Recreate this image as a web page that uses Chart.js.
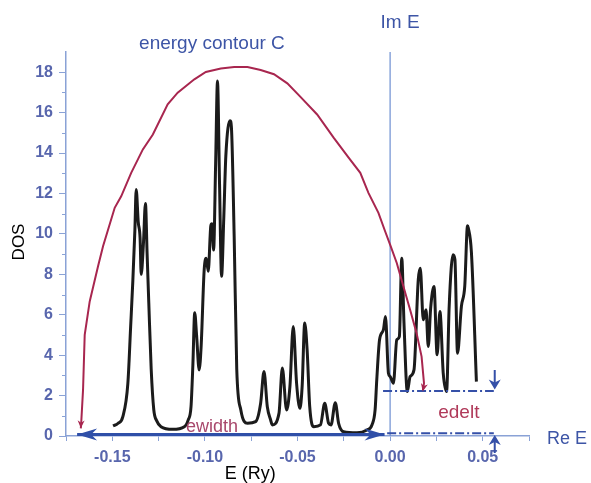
<!DOCTYPE html>
<html lang="en">
<head>
    <meta charset="UTF-8">
    <title>DOS and energy contour</title>
    <script src="https://cdn.jsdelivr.net/npm/chart.js"></script>
    <style>
        body {
            margin: 0;
            background: #fff;
        }
        canvas {
            display: block;
        }
    </style>
</head>
<body>
    <canvas id="dosChart" width="591" height="483"></canvas>

    <script>
        // density of states (black curve)
        const dosE = [
            -0.1496, -0.1470, -0.1443, -0.1416, -0.1401, -0.1389, -0.1378, -0.1371, -0.1360, -0.1350,
            -0.1344, -0.1332, -0.1321, -0.1312, -0.1303, -0.1290, -0.1276, -0.1260, -0.1237, -0.1174,
            -0.1111, -0.1090, -0.1075, -0.1065, -0.1055, -0.1045, -0.1031, -0.1020, -0.1004, -0.0993,
            -0.0982, -0.0968, -0.0962, -0.0953, -0.0942, -0.0932, -0.0921, -0.0910, -0.0898, -0.0887,
            -0.0864, -0.0857, -0.0842, -0.0828, -0.0806, -0.0770, -0.0726, -0.0699, -0.0681, -0.0663,
            -0.0645, -0.0636, -0.0600, -0.0582, -0.0559, -0.0541, -0.0523, -0.0505, -0.0487, -0.0475,
            -0.0461, -0.0448, -0.0434, -0.0412, -0.0376, -0.0353, -0.0332, -0.0319, -0.0296, -0.0278,
            -0.0251, -0.0179, -0.0125, -0.0098, -0.0081, -0.0072, -0.0057, -0.0036, -0.0025, -0.0009,
            0.0000, 0.0018, 0.0036, 0.0050, 0.0063, 0.0075, 0.0093, 0.0108, 0.0129, 0.0152,
            0.0163, 0.0179, 0.0194, 0.0206, 0.0219, 0.0237, 0.0254, 0.0269, 0.0287, 0.0305,
            0.0319, 0.0340, 0.0350, 0.0364, 0.0385, 0.0403, 0.0418, 0.0422, 0.0439, 0.0466
        ];
        const dosValues = [
            0.5, 0.62, 0.96, 2.6, 5.4, 7.7, 10.2, 12.2, 10.6, 9.8,
            8.0, 9.5, 11.5, 9.0, 6.6, 3.3, 1.3, 0.75, 0.46, 0.33,
            0.46, 0.8, 1.45, 3.5, 6.1, 5.0, 3.27, 4.5, 8.2, 8.8,
            8.15, 10.4, 10.5, 9.2, 13.5, 17.56, 12.5, 7.9, 10.8, 13.85,
            15.6, 15.3, 9.9, 3.3, 1.29, 0.63, 0.71, 1.62, 3.19, 1.45,
            0.79, 0.55, 1.12, 3.36, 1.29, 2.44, 5.42, 2.61, 1.37, 2.44,
            5.59, 4.26, 1.45, 0.46, 0.55, 1.62, 0.63, 0.55, 1.65, 0.63,
            0.21, 0.16, 0.3, 0.55, 1.29, 2.78, 4.76, 5.26, 5.91, 3.1,
            2.94, 2.61, 4.76, 4.92, 8.8, 5.59, 2.2, 2.94, 3.27, 7.73,
            8.3, 5.75, 6.25, 4.43, 6.33, 7.4, 4.02, 6.16, 3.1, 2.2,
            6.41, 8.97, 8.73, 4.1, 6.41, 7.4, 10.4, 10.3, 9.1, 2.69
        ];

        // energy contour C (crimson curve), drawn from left end to right end
        const contourE = [
            -0.1670, -0.1667, -0.1658, -0.1649, -0.1622, -0.1577, -0.1550, -0.1487, -0.1452, -0.1398,
            -0.1335, -0.1281, -0.1201, -0.1147, -0.1057, -0.0995, -0.0914, -0.0842, -0.0770, -0.0699,
            -0.0627, -0.0555, -0.0484, -0.0394, -0.0305, -0.0224, -0.0161, -0.0117, -0.0063, -0.0027,
            0.0000, 0.0036, 0.0072, 0.0108, 0.0143, 0.0170, 0.0183, 0.0176
        ];
        const contourValues = [
            0.38, 0.79, 2.28, 5.0, 6.66, 8.4, 9.39, 11.29, 11.86, 13.02,
            14.18, 14.92, 16.41, 16.99, 17.65, 18.01, 18.18, 18.26, 18.26, 18.11,
            17.9, 17.45, 16.78, 15.91, 14.76, 13.77, 13.02, 12.03, 11.04, 10.13,
            9.47, 8.56, 7.4, 6.25, 5.09, 3.93, 2.61, 2.2
        ];

        // construction lines
        const imAxisE = [0, 0];
        const imAxisValues = [0, 19];
        const ewidthE = [-0.169, -0.003];
        const ewidthValues = [0.08, 0.08];
        const edeltTopE = [-0.0038, 0.056];
        const edeltTopValues = [2.23, 2.23];
        const edeltBottomE = [-0.0016, 0.056];
        const edeltBottomValues = [0.13, 0.13];
        const edeltArrowE = 0.0565;
        const edeltDownArrow = [3.27, 2.3];
        const edeltUpArrow = [-0.84, 0.05];

        const toPoints = (xs, ys) => xs.map((x, i) => ({ x: x, y: ys[i] }));

        const FONT = '"Liberation Sans", Arial, sans-serif';
        const BLUE_TEXT = '#3d55a6';
        const TICK_BLUE = '#5866ad';
        const AXIS_BLUE = '#8aa2d6';
        const CRIMSON = '#a8264f';

        function arrowHead(ctx, fromX, fromY, tipX, tipY, len, half, color) {
            const a = Math.atan2(tipY - fromY, tipX - fromX);
            ctx.save();
            ctx.translate(tipX, tipY);
            ctx.rotate(a);
            ctx.fillStyle = color;
            ctx.beginPath();
            ctx.moveTo(0, 0);
            ctx.lineTo(-len, -half);
            ctx.lineTo(-len * 0.7, 0);
            ctx.lineTo(-len, half);
            ctx.closePath();
            ctx.fill();
            ctx.restore();
        }

        const extras = {
            id: 'extras',
            afterDatasetsDraw(chart) {
                const ctx = chart.ctx;
                const xs = chart.scales.x;
                const ys = chart.scales.y;
                const px = v => xs.getPixelForValue(v);
                const py = v => ys.getPixelForValue(v);

                // short minor ticks on the DOS axis
                ctx.save();
                ctx.strokeStyle = AXIS_BLUE;
                ctx.lineWidth = 1;
                for (let v = 1; v < 19; v += 2) {
                    const y = Math.round(py(v)) + 0.5;
                    ctx.beginPath();
                    ctx.moveTo(xs.left - 4, y);
                    ctx.lineTo(xs.left, y);
                    ctx.stroke();
                }
                ctx.restore();

                // arrowheads on the contour ends
                const n = contourE.length;
                arrowHead(ctx, px(contourE[1]), py(contourValues[1]) - 6, px(contourE[0]), py(contourValues[0]), 8, 3.5, CRIMSON);
                arrowHead(ctx, px(contourE[n - 2]) + 0.5, py(contourValues[n - 2]), px(contourE[n - 1]), py(contourValues[n - 1]), 8, 3.5, CRIMSON);

                // ewidth double arrow heads
                arrowHead(ctx, px(ewidthE[1]), py(ewidthValues[1]), px(ewidthE[0]), py(ewidthValues[0]), 20, 6, '#2f4fa8');
                arrowHead(ctx, px(ewidthE[0]), py(ewidthValues[0]), px(ewidthE[1]), py(ewidthValues[1]), 20, 6, '#2f4fa8');

                // edelt small arrows
                ctx.save();
                ctx.strokeStyle = '#3550a8';
                ctx.lineWidth = 2;
                const ax = px(edeltArrowE);
                ctx.beginPath();
                ctx.moveTo(ax, py(edeltDownArrow[0]));
                ctx.lineTo(ax, py(edeltDownArrow[1]) - 4);
                ctx.moveTo(ax, py(edeltUpArrow[0]));
                ctx.lineTo(ax, py(edeltUpArrow[1]) + 4);
                ctx.stroke();
                ctx.restore();
                arrowHead(ctx, ax, py(edeltDownArrow[0]), ax, py(edeltDownArrow[1]), 10, 6, '#3550a8');
                arrowHead(ctx, ax, py(edeltUpArrow[0]), ax, py(edeltUpArrow[1]), 10, 6, '#3550a8');

                // text labels
                ctx.save();
                ctx.textAlign = 'center';
                ctx.textBaseline = 'middle';

                ctx.fillStyle = BLUE_TEXT;
                ctx.font = '19px ' + FONT;
                ctx.fillText('energy contour C', px(-0.0962), 44);
                ctx.fillText('Im E', px(0.0054), 23);
                ctx.textAlign = 'left';
                ctx.font = '18px ' + FONT;
                ctx.fillText('Re E', xs.right + 18, py(-0.15));

                ctx.textAlign = 'center';
                ctx.fillStyle = '#a8486c';
                ctx.font = '18px ' + FONT;
                ctx.fillText('ewidth', px(-0.0962), py(0.45));
                ctx.fillStyle = '#b03a5a';
                ctx.font = '19px ' + FONT;
                ctx.fillText('edelt', px(0.0371), py(1.14));

                ctx.fillStyle = '#000';
                ctx.font = '18px ' + FONT;
                ctx.fillText('E (Ry)', px(-0.0755), 474);

                ctx.translate(19, py(9.6));
                ctx.rotate(-Math.PI / 2);
                ctx.font = '17px ' + FONT;
                ctx.fillText('DOS', 0, 0);
                ctx.restore();
            }
        };

        new Chart(document.getElementById('dosChart'), {
            type: 'scatter',
            data: {
                datasets: [
                    {
                        label: 'DOS',
                        data: toPoints(dosE, dosValues),
                        showLine: true,
                        borderColor: '#1b1b1b',
                        borderWidth: 3,
                        pointRadius: 0,
                        cubicInterpolationMode: 'monotone',
                        order: 2
                    },
                    {
                        label: 'energy contour C',
                        data: toPoints(contourE, contourValues),
                        showLine: true,
                        borderColor: CRIMSON,
                        borderWidth: 2,
                        pointRadius: 0,
                        tension: 0,
                        order: 1
                    },
                    {
                        label: 'Im E',
                        data: toPoints(imAxisE, imAxisValues),
                        showLine: true,
                        borderColor: '#6d8fd2',
                        borderWidth: 1.2,
                        pointRadius: 0,
                        order: 3
                    },
                    {
                        label: 'ewidth',
                        data: toPoints(ewidthE, ewidthValues),
                        showLine: true,
                        borderColor: '#2f4fa8',
                        borderWidth: 3,
                        pointRadius: 0,
                        clip: false,
                        order: 0
                    },
                    {
                        label: 'edelt top',
                        data: toPoints(edeltTopE, edeltTopValues),
                        showLine: true,
                        borderColor: '#3550a8',
                        borderWidth: 2,
                        borderDash: [9, 3, 2, 3],
                        pointRadius: 0,
                        clip: false,
                        order: 0
                    },
                    {
                        label: 'edelt bottom',
                        data: toPoints(edeltBottomE, edeltBottomValues),
                        showLine: true,
                        borderColor: '#3550a8',
                        borderWidth: 2,
                        borderDash: [9, 3, 2, 3],
                        pointRadius: 0,
                        clip: false,
                        order: 0
                    }
                ]
            },
            options: {
                responsive: false,
                animation: false,
                layout: {
                    padding: { top: 52, right: 62, left: 0, bottom: 0 }
                },
                plugins: {
                    legend: { display: false },
                    tooltip: { enabled: false }
                },
                scales: {
                    x: {
                        type: 'linear',
                        min: -0.175,
                        max: 0.075,
                        afterFit: scale => { scale.height = 47; },
                        border: { color: AXIS_BLUE, width: 1.5 },
                        grid: {
                            drawOnChartArea: false,
                            tickLength: 5,
                            tickColor: AXIS_BLUE
                        },
                        ticks: {
                            stepSize: 0.025,
                            padding: 7,
                            maxRotation: 0,
                            autoSkip: false,
                            color: TICK_BLUE,
                            font: { family: FONT, size: 16, weight: 'bold' },
                            callback: v => {
                                const r = Math.round(v * 1000) / 1000;
                                if (Math.abs(r * 20 - Math.round(r * 20)) > 1e-6) return '';
                                return (Math.round(r * 100) / 100).toFixed(2);
                            }
                        }
                    },
                    y: {
                        min: 0,
                        max: 19,
                        afterFit: scale => { scale.width = 66; },
                        border: { color: AXIS_BLUE, width: 1.5 },
                        grid: {
                            drawOnChartArea: false,
                            tickLength: 7,
                            tickColor: c => (c.tick && c.tick.value % 2 === 0) ? AXIS_BLUE : 'rgba(0,0,0,0)'
                        },
                        ticks: {
                            stepSize: 1,
                            padding: 6,
                            autoSkip: false,
                            color: TICK_BLUE,
                            font: { family: FONT, size: 16, weight: 'bold' },
                            callback: v => (v % 2 === 0 ? v : '')
                        }
                    }
                }
            },
            plugins: [extras]
        });
    </script>
</body>
</html>
